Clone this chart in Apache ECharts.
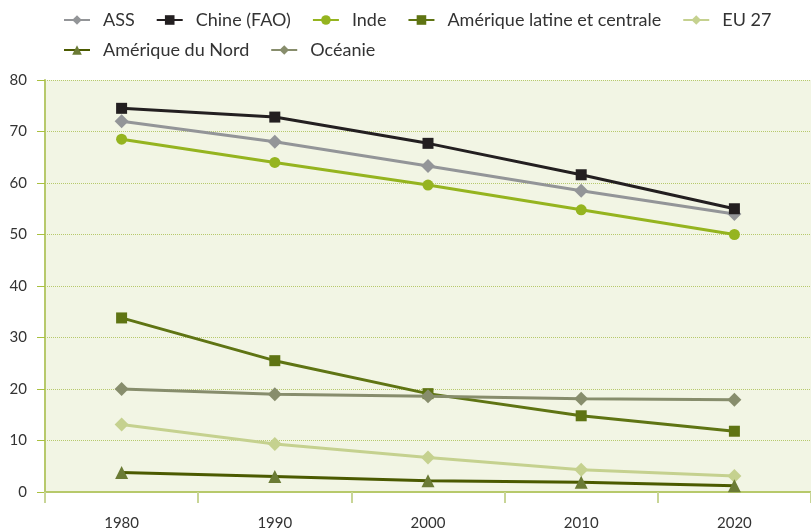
<!DOCTYPE html>
<html>
<head>
<meta charset="utf-8">
<script src="https://cdn.jsdelivr.net/npm/echarts@6/dist/echarts.min.js"></script>
<style>
  html, body { margin: 0; padding: 0; background: #fff; }
  #chart { width: 811px; height: 532px; }
</style>
</head>
<body>
<div id="chart"></div>
<script>
/* ============ données ============ */
const years = ['1980', '1990', '2000', '2010', '2020'];

const ass        = [72.0, 68.0, 63.3, 58.5, 54.0];
const chine      = [74.5, 72.8, 67.7, 61.6, 55.0];
const inde       = [68.5, 64.0, 59.6, 54.8, 50.0];
const ameLatine  = [33.8, 25.5, 19.1, 14.8, 11.8];
const eu27       = [13.1, 9.3, 6.7, 4.3, 3.1];
const ameNord    = [3.8, 3.0, 2.2, 1.9, 1.2];
const oceanie    = [20.0, 19.0, 18.6, 18.1, 17.9];

const FONT = 'Lato, "Open Sans", sans-serif';
const GREEN_AXIS = '#b7c96b';

function line(name, data, color, symbol, size, lineColor) {
  return {
    name: name,
    type: 'line',
    data: data,
    symbol: symbol,
    symbolSize: size,
    lineStyle: { color: lineColor || color, width: 3 },
    itemStyle: { color: color },
    z: 3
  };
}

const legendText = { fontSize: 18, color: '#333', fontFamily: FONT, padding: [0, 0, 0, 8] };

/* ============ graphique ============ */
const chart = echarts.init(document.getElementById('chart'));

chart.setOption({
  backgroundColor: '#fff',
  animation: false,
  textStyle: { fontFamily: FONT },

  legend: [
    {
      left: 58, top: 6,
      itemWidth: 26, itemHeight: 12, itemGap: 21,
      textStyle: legendText,
      data: ['ASS', 'Chine (FAO)', 'Inde', 'Amérique latine et centrale', 'EU 27']
    },
    {
      left: 58, top: 36,
      itemWidth: 26, itemHeight: 12, itemGap: 21,
      textStyle: legendText,
      data: ['Amérique du Nord', 'Océanie']
    }
  ],

  grid: {
    left: 45, right: -4, top: 80, bottom: 40,
    show: true,
    backgroundColor: '#f2f5e4',
    borderWidth: 0
  },

  xAxis: {
    type: 'category',
    data: years,
    boundaryGap: true,
    axisLine: { show: true, lineStyle: { color: GREEN_AXIS, width: 2 } },
    axisTick: { show: true, length: 11, lineStyle: { color: '#c8d596', width: 2 } },
    axisLabel: { color: '#333', fontSize: 15, margin: 24, fontFamily: FONT }
  },

  yAxis: {
    type: 'value',
    min: 0, max: 80, interval: 10,
    axisLine: { show: true, lineStyle: { color: GREEN_AXIS, width: 2 } },
    axisTick: { show: true, length: 8, lineStyle: { color: '#a9c03e', width: 1 } },
    axisLabel: { color: '#333', fontSize: 15, margin: 18, fontFamily: FONT },
    splitLine: { show: true, lineStyle: { color: '#b7c96b', type: 'dotted', width: 1 } }
  },

  series: [
    line('ASS', ass, '#939598', 'diamond', 14),
    line('Chine (FAO)', chine, '#231f20', 'rect', 11),
    line('Inde', inde, '#95b41f', 'circle', 11),
    line('Amérique latine et centrale', ameLatine, '#5f7413', 'rect', 11),
    line('EU 27', eu27, '#c5d18f', 'diamond', 14),
    line('Amérique du Nord', ameNord, '#6b7b35', 'triangle', 13, '#4b5a00'),
    line('Océanie', oceanie, '#878d6c', 'diamond', 14)
  ]
});
</script>
</body>
</html>
